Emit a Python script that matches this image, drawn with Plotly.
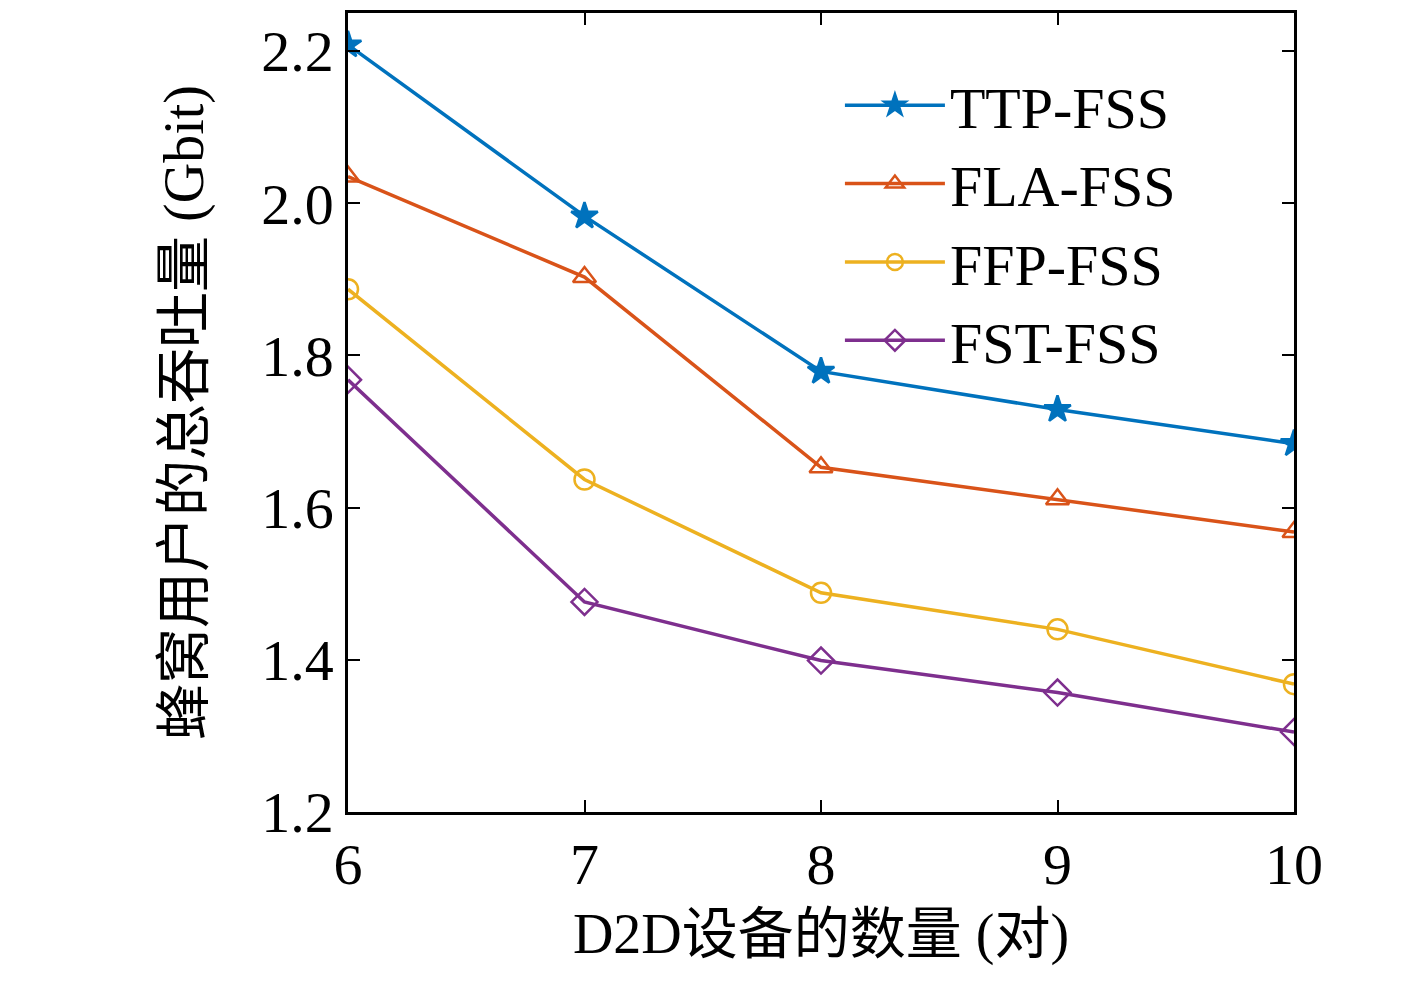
import plotly.graph_objects as go

x = [6, 7, 8, 9, 10]
ttp = [2.208, 1.983, 1.779, 1.729, 1.684]
fla = [2.035, 1.903, 1.653, 1.611, 1.568]
ffp = [1.887, 1.637, 1.488, 1.440, 1.368]
fst = [1.768, 1.476, 1.399, 1.357, 1.305]
names = ["TTP-FSS", "FLA-FSS", "FFP-FSS", "FST-FSS"]
series = [ttp, fla, ffp, fst]
colors = ["#0072BD", "#D95319", "#EDB120", "#7E2F8E"]
symbols = ["star", "triangle-up-open", "circle-open", "diamond-open"]

fig = go.Figure()
for n, s, c, m in zip(names, series, colors, symbols):
    fig.add_trace(go.Scatter(x=x, y=s, name=n, mode="lines+markers",
                             line=dict(color=c, width=3.5),
                             marker=dict(symbol=m, size=20, color=c, line=dict(color=c, width=2.5))))

font = "Liberation Serif, Noto Sans CJK SC"
axis = dict(showgrid=False, zeroline=False, showline=True, linecolor="black", linewidth=2.5,
            mirror="ticks", ticks="inside", ticklen=12, tickwidth=2, tickcolor="black",
            tickfont=dict(size=58, family=font, color="black"))
fig.update_layout(
    width=1417, height=990, plot_bgcolor="white", paper_bgcolor="white",
    margin=dict(l=340, r=131, t=2, b=186),
    font=dict(family=font, color="black"),
    xaxis=dict(axis, range=[6, 10], tickvals=x,
               title=dict(text="D2D设备的数量 (对)", font=dict(size=56, family=font), standoff=18)),
    yaxis=dict(axis, range=[1.2, 2.25], tickvals=[1.2, 1.4, 1.6, 1.8, 2.0, 2.2], tickformat=".1f",
               title=dict(text="蜂窝用户的总吞吐量 (Gbit)", font=dict(size=56, family=font), standoff=40)),
    legend=dict(x=0.52, y=0.94, xanchor="left", yanchor="top", bgcolor="rgba(0,0,0,0)",
                font=dict(size=58, family=font), itemwidth=100, tracegroupgap=0),
)
fig.write_html("out.html")
